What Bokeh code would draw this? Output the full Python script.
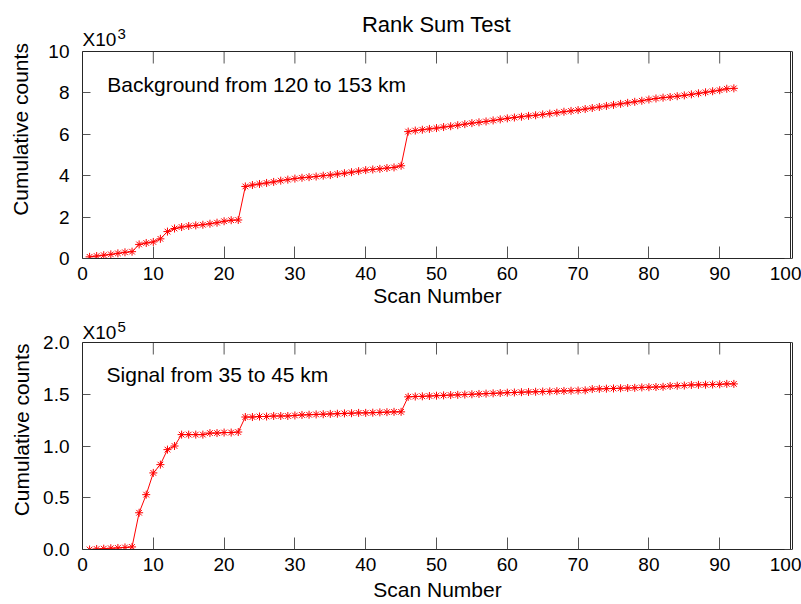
import math
from bokeh.plotting import figure
from bokeh.models import Range1d, Label, FixedTicker, ColumnDataSource, BoxAnnotation, LinearAxis
from bokeh.layouts import column
from bokeh.embed import file_html
from bokeh.resources import INLINE

# ---------------- data ----------------
scan = list(range(1, 93))

background_k = [  # cumulative counts, x10^3
    0.08, 0.12, 0.16, 0.20, 0.25, 0.30, 0.33, 0.68, 0.75, 0.80,
    0.95, 1.30, 1.45, 1.52, 1.57, 1.60, 1.63, 1.68, 1.73, 1.80,
    1.85, 1.86, 3.48, 3.55, 3.60, 3.65, 3.70, 3.76, 3.81, 3.86,
    3.90, 3.93, 3.96, 4.00, 4.03, 4.08, 4.12, 4.17, 4.22, 4.27,
    4.30, 4.33, 4.37, 4.40, 4.48, 6.13, 6.18, 6.22, 6.26, 6.30,
    6.35, 6.39, 6.44, 6.49, 6.54, 6.58, 6.62, 6.67, 6.72, 6.77,
    6.81, 6.85, 6.89, 6.92, 6.96, 7.00, 7.04, 7.09, 7.13, 7.17,
    7.22, 7.27, 7.32, 7.37, 7.42, 7.47, 7.52, 7.57, 7.62, 7.68,
    7.73, 7.77, 7.80, 7.84, 7.88, 7.93, 7.98, 8.03, 8.08, 8.13,
    8.20, 8.22,
]

signal_e5 = [  # cumulative counts, x10^5
    0.000, 0.005, 0.008, 0.012, 0.015, 0.020, 0.025, 0.355, 0.530, 0.740,
    0.820, 0.965, 1.000, 1.110, 1.110, 1.110, 1.110, 1.125, 1.125, 1.130,
    1.130, 1.135, 1.280, 1.280, 1.285, 1.285, 1.290, 1.290, 1.290, 1.295,
    1.300, 1.302, 1.305, 1.307, 1.310, 1.312, 1.315, 1.317, 1.320, 1.320,
    1.322, 1.325, 1.327, 1.330, 1.330, 1.475, 1.478, 1.480, 1.483, 1.486,
    1.489, 1.492, 1.494, 1.497, 1.500, 1.503, 1.506, 1.509, 1.512, 1.515,
    1.517, 1.520, 1.522, 1.524, 1.526, 1.528, 1.530, 1.532, 1.534, 1.536,
    1.538, 1.550, 1.552, 1.554, 1.556, 1.558, 1.560, 1.562, 1.566, 1.568,
    1.570, 1.572, 1.580, 1.582, 1.584, 1.590, 1.591, 1.592, 1.594, 1.596,
    1.600, 1.600,
]

x_ticks = [0, 10, 20, 30, 40, 50, 60, 70, 80, 90, 100]
top_y_ticks = [0, 2, 4, 6, 8, 10]
top_y_labels = ["0", "2", "4", "6", "8", "10"]
bot_y_ticks = [0, 0.5, 1.0, 1.5, 2.0]
bot_y_labels = ["0.0", "0.5", "1.0", "1.5", "2.0"]

title_text = "Rank Sum Test"
x_label = "Scan Number"
y_label = "Cumulative counts"
top_note = "Background from 120 to 153 km"
bot_note = "Signal from 35 to 45 km"

FONT = "Liberation Sans"
AX_COLOR = "#262626"
TICK_COLOR = "#555555"

BOX_H = 207      # pixel height of each axes box
BOX_W = 708      # pixel width of each axes box
XMAX = 100


def make_panel(yvals, ymax, yticks, ylabels, exponent, note, note_xy,
               head_px, bottom_border, ylab_standoff, xlab_standoff,
               xtick_standoff, exp_off, sup_off):
    # the plotting frame reaches head_px above the axes box so that the
    # title and exponent texts above the box are not clipped
    top = ymax * (BOX_H + head_px) / BOX_H
    right = XMAX * (BOX_W + 2) / BOX_W
    p = figure(title=None, frame_width=BOX_W + 2, frame_height=BOX_H + head_px,
               x_range=Range1d(0, right), y_range=Range1d(0, top),
               output_backend="svg", toolbar_location=None,
               min_border_left=82, min_border_right=9,
               min_border_top=0, min_border_bottom=bottom_border,
               background_fill_color="white", border_fill_color="white")
    p.outline_line_color = None
    p.xgrid.visible = False
    p.ygrid.visible = False

    bx = p.xaxis[0]
    bx.ticker = FixedTicker(ticks=x_ticks)
    bx.bounds = (0, XMAX)
    ly = p.yaxis[0]
    ly.ticker = FixedTicker(ticks=yticks)
    ly.bounds = (0, ymax)
    ly.major_label_overrides = {t: l for t, l in zip(yticks, ylabels)}
    for ax, tl in ((bx, 12), (ly, 8)):
        ax.axis_line_color = AX_COLOR
        ax.major_tick_line_color = TICK_COLOR
        ax.major_tick_in = tl
        ax.major_tick_out = 0
        ax.minor_tick_line_color = None
        ax.major_label_text_font = FONT
        ax.major_label_text_font_size = "19px"
        ax.major_label_text_color = "black"
        ax.axis_label_text_font = FONT
        ax.axis_label_text_font_size = "21px"
        ax.axis_label_text_font_style = "normal"
        ax.axis_label_text_color = "black"
    bx.major_label_standoff = xtick_standoff
    bx.axis_label = x_label
    bx.axis_label_standoff = xlab_standoff
    ly.major_label_standoff = 13
    ly.axis_label = y_label
    ly.axis_label_standoff = ylab_standoff

    # right edge of the box with inward ticks (no labels drawn)
    ry = LinearAxis(ticker=FixedTicker(ticks=yticks), bounds=(0, ymax),
                    axis_line_color=AX_COLOR, major_tick_line_color=TICK_COLOR,
                    major_tick_in=8, major_tick_out=0,
                    minor_tick_line_color=None, major_label_standoff=0,
                    major_label_text_font_size="1px",
                    major_label_text_color=None)
    p.add_layout(ry, "right")

    # the axes box (top edge; the other edges coincide with the axes)
    p.add_layout(BoxAnnotation(left=0, right=XMAX, bottom=0, top=ymax,
                               fill_alpha=0, fill_color=None,
                               line_color=AX_COLOR, line_width=1, line_alpha=1))

    # inward ticks on the top edge
    p.ray(x=x_ticks, y=[ymax] * len(x_ticks), length=12, length_units="screen",
          angle=-math.pi / 2, line_color=TICK_COLOR, line_width=1)

    src = ColumnDataSource(dict(x=scan, y=yvals))
    p.line("x", "y", source=src, line_color="red", line_width=1)
    p.scatter("x", "y", source=src, marker="asterisk", size=8,
              line_color="red", line_width=1)

    p.add_layout(Label(x=0, y=ymax, text="X10", x_offset=0, y_offset=exp_off,
                       text_font=FONT, text_font_size="19px",
                       text_baseline="alphabetic", text_color="black"))
    p.add_layout(Label(x=0, y=ymax, text=exponent, x_offset=35,
                       y_offset=sup_off,
                       text_font=FONT, text_font_size="15px",
                       text_baseline="alphabetic", text_color="black"))
    p.add_layout(Label(x=note_xy[0], y=note_xy[1], text=note,
                       text_font=FONT, text_font_size="21px",
                       text_baseline="alphabetic", text_color="black"))
    return p, ymax


p1, ym1 = make_panel(background_k, 10, top_y_ticks, top_y_labels, "3",
                     top_note, (3.5, 8.42), 51, 52, 13, 1, 8, 12.3, 18)
p1.add_layout(Label(x=XMAX / 2, y=ym1, text=title_text, y_offset=27.3,
                    text_align="center", text_baseline="alphabetic",
                    text_font=FONT, text_font_size="22px",
                    text_color="black"))

p2, ym2 = make_panel(signal_e5, 2.0, bot_y_ticks, bot_y_labels, "5",
                     bot_note, (3.4, 1.693), 32, 55, 7, 4, 8, 10.3, 15.3)

layout = column(p1, p2, spacing=0)

open("out.html", "w").write(file_html(layout, INLINE))
